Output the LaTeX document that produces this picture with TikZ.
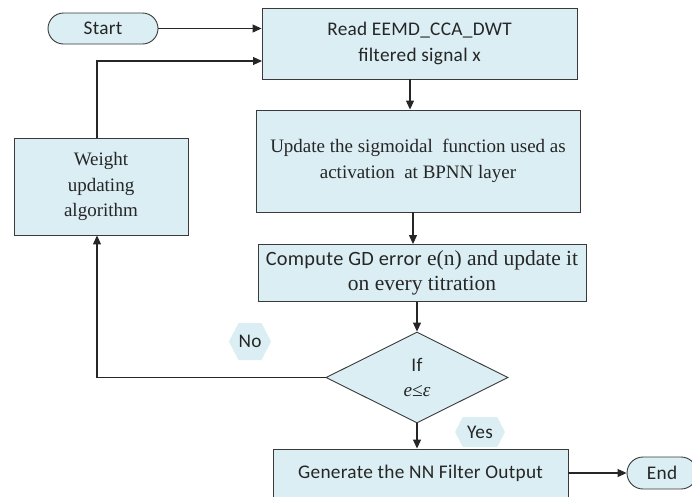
\documentclass[tikz,border=0pt]{standalone}
\usepackage{fontspec}
\setmainfont{Liberation Serif}
\newfontfamily\calib[LetterSpace=1.5]{Carlito}
\usetikzlibrary{shapes.geometric,shapes.misc,shapes.symbols,arrows.meta}
\definecolor{boxfill}{HTML}{DAEEF3}
\definecolor{boxdraw}{HTML}{3A3A3A}
\definecolor{txt}{HTML}{262626}
\begin{document}
\begin{tikzpicture}[x=1pt,y=-1pt,
  base/.style={draw=boxdraw, fill=boxfill, line width=0.9pt, text=txt,
    inner sep=0pt, align=center},
  sansfont/.style={font=\calib\fontsize{19.3}{25.5}\selectfont},
  seriffont/.style={font=\fontsize{19}{25.5}\selectfont},
  bigserif/.style={font=\fontsize{21.5}{25.5}\selectfont},
  procbox/.style={base, rectangle},
  term/.style={base, rounded rectangle, sansfont},
  decision/.style={base, diamond, sansfont},
  hexlbl/.style={signal, signal to=west and east, signal pointer angle=125,
    fill=boxfill, draw=none, inner sep=0pt, text=txt, sansfont},
  arr/.style={-{Triangle[length=9pt,width=8pt]}, line width=1.1pt, draw=black!85}
]
\useasboundingbox (0,0) rectangle (692,496);

\node[term, minimum width=110, minimum height=31] (start) at (103,28.5) {Start};
\node[procbox, sansfont, minimum width=315, minimum height=71] (read) at (419.5,43.5)
  {Read EEMD\_CCA\_DWT\\filtered signal x};
\node[procbox, seriffont, minimum width=324, minimum height=102] (upd) at (418,161)
  {Update the sigmoidal\ \ function used as\\activation\ \ at BPNN layer};
\node[procbox, bigserif, minimum width=328, minimum height=57] (comp) at (422,273)
  {{\calib\fontsize{20.3}{25.5}\selectfont Compute GD error} e(n) and update it\\on every titration};
\node[decision, minimum width=182, minimum height=91] (dec) at (417,377.5)
  {If\\{\rmfamily\itshape e≤ε}};
\node[procbox, seriffont, minimum width=174, minimum height=97] (weight) at (101,186.5)
  {Weight\\updating\\algorithm};
\node[procbox, sansfont, minimum width=295, minimum height=48] (gen) at (420.5,473)
  {Generate the NN Filter Output};
\node[term, minimum width=70, minimum height=32] (end) at (662,473) {End};

\node[hexlbl, minimum width=40, minimum height=37] (no) at (250,341.5) {No};
\node[hexlbl, minimum width=50, minimum height=30] (yes) at (480,432) {Yes};

\coordinate (fbin) at (262,61);

\draw[arr] (start.east) -- (start.east -| read.west);
\draw[arr] ([xshift=-4pt]weight.north) |- (fbin);
\draw[arr] ([xshift=-9.5pt]read.south) -- ([xshift=-9.5pt]read.south |- upd.north);
\draw[arr] ([xshift=-5pt]upd.south) -- ([xshift=-5pt]upd.south |- comp.north);
\draw[arr] (dec.north |- comp.south) -- (dec.north);
\draw[arr] (dec.south) -- (dec.south |- gen.north);
\draw[arr] (dec.west) -| ([xshift=-4pt]weight.south);
\draw[arr] (gen.east) -- (end.west);
\end{tikzpicture}
\end{document}
